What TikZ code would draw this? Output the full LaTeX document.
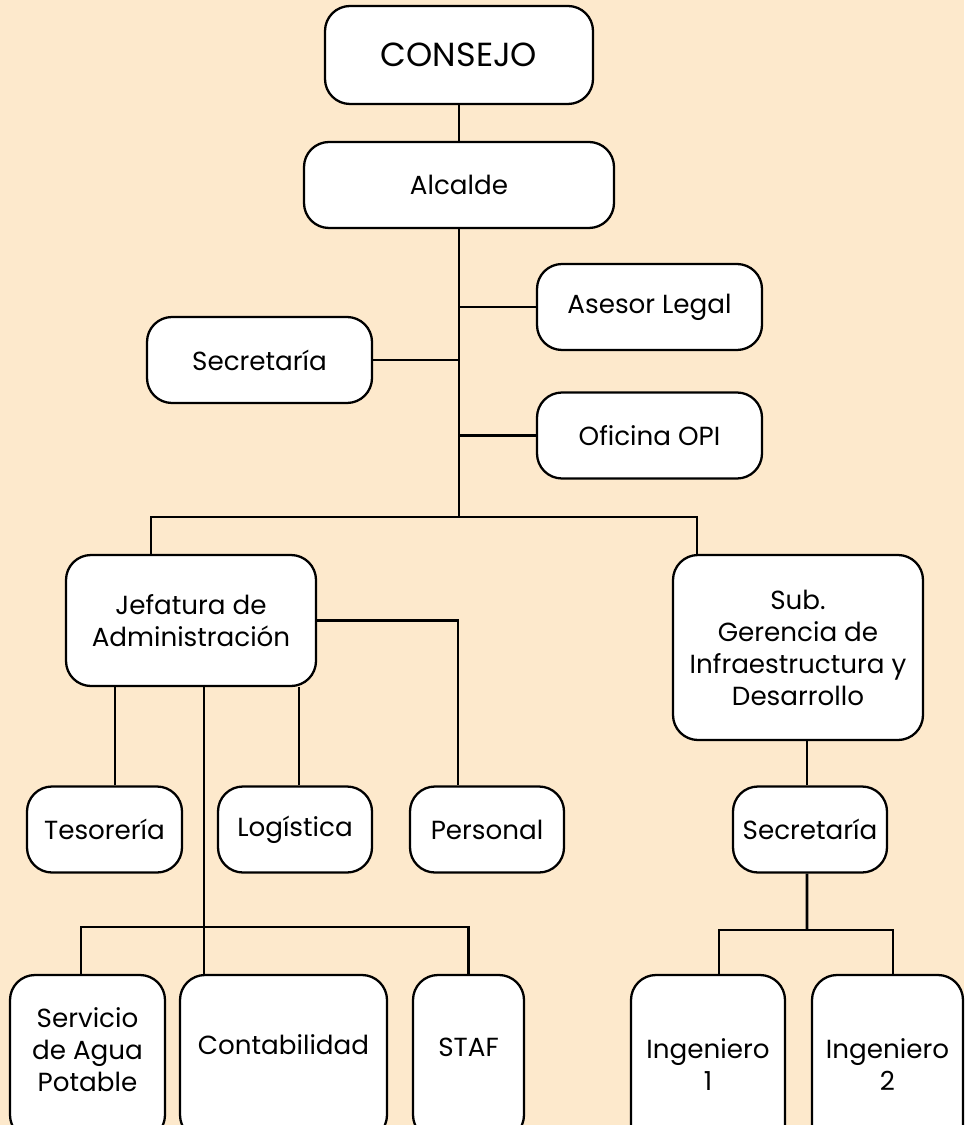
\documentclass[tikz,border=0pt]{standalone}
\usepackage{fontspec}
\setmainfont{Poppins}
\usepackage{tikz}
\usetikzlibrary{positioning}
\definecolor{bgpeach}{RGB}{253,233,204}

\begin{document}
\begin{tikzpicture}[
  unit/.style={
    rectangle, rounded corners=0.5cm,
    draw=black, line width=1.3pt, fill=white,
    align=center, inner sep=2pt,
    font=\fontsize{14.9}{18.2}\selectfont
  },
  link/.style={line width=1.5pt, draw=black}
]
% Background
\fill[bgpeach] (0,0) rectangle (19.28,-22.5);
\useasboundingbox (0,0) rectangle (19.28,-22.5);
% Top
\node[unit, minimum width=5.36cm, minimum height=1.96cm, font=\fontsize{19}{22}\selectfont] (consejo) at (9.18,-1.10) {CONSEJO};
\node[unit, minimum width=6.2cm, minimum height=1.72cm] (alcalde) at (9.18,-3.70) {Alcalde};
% Staff
\node[unit, minimum width=4.5cm, minimum height=1.72cm] (asesor) at (12.99,-6.14) {Asesor Legal};
\node[unit, minimum width=4.5cm, minimum height=1.72cm] (secretaria) at (5.19,-7.20) {Secretaría};
\node[unit, minimum width=4.5cm, minimum height=1.72cm] (opi) at (12.99,-8.71) {Oficina OPI};
% Middle
\node[unit, minimum width=5.0cm, minimum height=2.62cm] (jefatura) at (3.82,-12.41) {Jefatura de\\Administración};
\node[unit, minimum width=5.0cm, minimum height=3.7cm] (subger) at (15.96,-12.95) {Sub.\\Gerencia de\\Infraestructura y\\Desarrollo};
% Lower row
\node[unit, minimum width=3.1cm, minimum height=1.72cm] (tesoreria) at (2.09,-16.59) {Tesorería};
\node[unit, minimum width=3.08cm, minimum height=1.72cm] (logistica) at (5.90,-16.59) {Logística};
\node[unit, minimum width=3.08cm, minimum height=1.72cm] (personal) at (9.74,-16.59) {Personal};
\node[unit, minimum width=3.08cm, minimum height=1.72cm] (secretariasub) at (16.20,-16.59) {Secretaría};
% Bottom row
\node[unit, minimum width=3.1cm, minimum height=3.3cm, text depth=9pt] (servicio) at (1.75,-21.15) {Servicio\\de Agua\\Potable};
\node[unit, minimum width=4.14cm, minimum height=3.3cm, text depth=15pt] (contab) at (5.67,-21.15) {Contabilidad};
\node[unit, minimum width=2.22cm, minimum height=3.3cm, text depth=11.3pt] (staf) at (9.37,-21.15) {STAF};
\node[unit, minimum width=3.08cm, minimum height=3.6cm] (ing1) at (14.16,-21.30) {Ingeniero\\1};
\node[unit, minimum width=3.02cm, minimum height=3.6cm] (ing2) at (17.75,-21.30) {Ingeniero\\2};
% Junctions
\coordinate (bus) at (9.18,-10.34);
\coordinate (adminbus) at (4.08,-18.54);
\coordinate (ingbus) at (16.14,-18.60);
% Links
\draw[link] (consejo) -- (alcalde);
\draw[link] (alcalde) -- (bus);
\draw[link] (asesor.west) -- (asesor.west -| alcalde.south);
\draw[link] (secretaria.east) -- (secretaria.east -| alcalde.south);
\draw[link] (opi.west) -- (opi.west -| alcalde.south);
\draw[link] ([xshift=-0.8cm]jefatura.north) |- (bus) -| ([xshift=-2.02cm]subger.north);
\draw[link] (jefatura.east) -| ([xshift=-0.58cm]personal.north);
\draw[link] ([xshift=0.21cm]tesoreria.north) -- ([xshift=0.21cm]tesoreria.north |- jefatura.south);
\draw[link] ([xshift=0.08cm]logistica.north) -- ([xshift=0.08cm]logistica.north |- jefatura.south);
\draw[link] ([xshift=-1.59cm]contab.north) -- ([xshift=-1.59cm]contab.north |- jefatura.south);
\draw[link] ([xshift=-0.13cm]servicio.north) |- (adminbus) -| (staf.north);
\draw[link] ([xshift=-0.06cm]secretariasub.north) -- ([xshift=-0.06cm]secretariasub.north |- subger.south);
\draw[link] ([xshift=-0.06cm]secretariasub.south) -- (ingbus);
\draw[link] ([xshift=0.22cm]ing1.north) |- (ingbus) -| ([xshift=0.11cm]ing2.north);
\end{tikzpicture}
\end{document}
